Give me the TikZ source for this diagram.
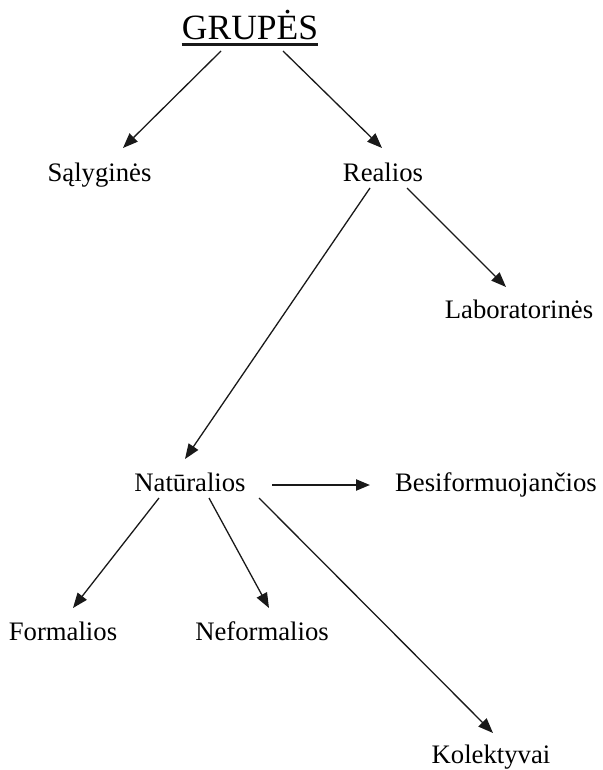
\documentclass[tikz,border=0pt]{standalone}
\usepackage{fontspec}
\setmainfont{Liberation Serif}
\usetikzlibrary{arrows.meta,calc}
\begin{document}
\begin{tikzpicture}[x=1pt,y=-1pt,
  lbl/.style={inner sep=0pt,anchor=base,font=\fontsize{26.7}{30}\selectfont,text=black},
  ttl/.style={inner sep=0pt,anchor=base,font=\fontsize{35.5}{40}\selectfont,text=black},
  arr/.style={line width=1.3pt,draw=black!90,-{Triangle[length=15pt,width=11.5pt]}},
  harr/.style={arr,line width=2.2pt,-{Triangle[length=14pt,width=11pt]}}]
\useasboundingbox (0,0) rectangle (602,770);
\node[ttl] (g) at (250,40) {GRUPĖS};
\draw[line width=2.4pt,black!90] ($(g.base west)+(0,4.5)$) -- ($(g.base east)+(0,4.5)$);
\node[lbl] (s) at (99.5,182) {Sąlyginės};
\node[lbl] (r) at (383,182) {Realios};
\node[lbl] (l) at (519,318) {Laboratorinės};
\node[lbl] (n) at (190,491) {Natūralios};
\node[lbl] (b) at (496,491) {Besiformuojančios};
\node[lbl] (f) at (63,640) {Formalios};
\node[lbl] (nf) at (262,640) {Neformalios};
\node[lbl] (k) at (491,763) {Kolektyvai};
\draw[arr] ($(g.base)+(-29,11)$) -- ($(s.base)+(23.5,-34)$);
\draw[arr] ($(g.base)+(33,11)$) -- ($(r.base)+(-1,-34)$);
\draw[arr] ($(r.base)+(-13,6)$) -- ($(n.base)+(-5,-32)$);
\draw[arr] ($(r.base)+(24,6)$) -- ($(l.base)+(-13,-31)$);
\draw[harr] ($(n.base)+(82,-6)$) -- ($(b.base)+(-126,-6)$);
\draw[arr] ($(n.base)+(-31,7)$) -- ($(f.base)+(10,-32)$);
\draw[arr] ($(n.base)+(19,7)$) -- ($(nf.base)+(7,-32)$);
\draw[arr] ($(n.base)+(69,7)$) -- ($(k.base)+(2,-30)$);
\end{tikzpicture}
\end{document}
